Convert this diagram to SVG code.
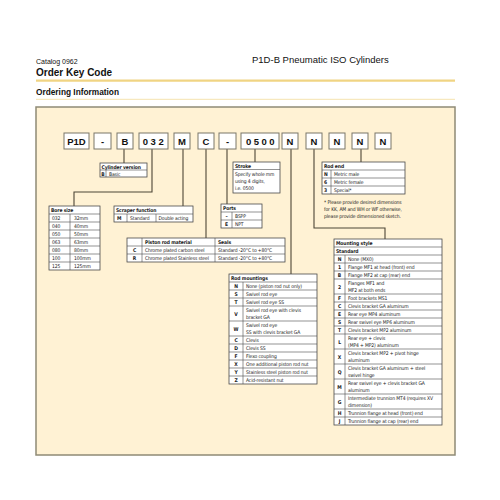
<svg xmlns="http://www.w3.org/2000/svg" width="500" height="500" viewBox="0 0 500 500">
<style>
.hd{font-family:"Liberation Sans",Arial,sans-serif;fill:#111}
.code{fill:#fff;stroke:#7a7668;stroke-width:1}
.ct{font-family:"Liberation Sans",Arial,sans-serif;font-weight:bold;font-size:9.5px;fill:#111;text-anchor:middle}
.tb{fill:#fff;stroke:#4a4a4a;stroke-width:0.8}
.rl{stroke:#4a4a4a;stroke-width:0.6;fill:none}
.t{font-family:"Liberation Sans Narrow","DejaVu Sans Condensed","Liberation Sans",sans-serif;font-size:5px;letter-spacing:-0.12px;fill:#222}
.b{font-weight:bold}
.m{text-anchor:middle}
.cn{stroke:#4d4636;stroke-width:1.1;fill:none}
</style>
<rect width="500" height="500" fill="#fff"/>
<g id="header">
<text class="hd" x="36" y="64" font-size="7">Catalog 0962</text>
<text class="hd" x="36" y="76" font-size="10" font-weight="bold">Order Key Code</text>
<text class="hd" x="252" y="63" font-size="9.5">P1D-B Pneumatic ISO Cylinders</text>
<line x1="36" y1="80.7" x2="455" y2="80.7" stroke="#f0d483" stroke-width="2.2"/>
<text class="hd" x="36" y="95" font-size="8.3" font-weight="bold">Ordering Information</text>
<line x1="36" y1="99.3" x2="455" y2="99.3" stroke="#f6e3ae" stroke-width="1"/>
</g>
<rect id="panel" x="36" y="107" width="419" height="348" fill="#fff2d4" stroke="#8f8a76" stroke-width="1.5"/>
<g id="connectors">
<path class="cn" d="M124,149V163"/>
<path class="cn" d="M152,149V192H74V206"/>
<path class="cn" d="M183,149V206"/>
<path class="cn" d="M206,149V238"/>
<path class="cn" d="M227,149V204"/>
<path class="cn" d="M255,149V162"/>
<path class="cn" d="M291,149V274"/>
<path class="cn" d="M314,149V228H385V239"/>
<path class="cn" d="M361,149V162"/>
</g>
<g id="codes">
<rect class="code" x="64" y="133" width="25" height="16"/><text class="ct" x="76.5" y="144.5">P1D</text>
<rect class="code" x="94" y="133" width="17" height="16"/><text class="ct" x="102.5" y="144.5">-</text>
<rect class="code" x="117" y="133" width="16" height="16"/><text class="ct" x="125" y="144.5">B</text>
<rect class="code" x="139" y="133" width="29" height="16"/><text class="ct" x="154.5" y="144.5" letter-spacing="2.5">032</text>
<rect class="code" x="174" y="133" width="16" height="16"/><text class="ct" x="182" y="144.5">M</text>
<rect class="code" x="198" y="133" width="16" height="16"/><text class="ct" x="206" y="144.5">C</text>
<rect class="code" x="219" y="133" width="17" height="16"/><text class="ct" x="227.5" y="144.5">-</text>
<rect class="code" x="241" y="133" width="38" height="16"/><text class="ct" x="261.5" y="144.5" letter-spacing="2.5">0500</text>
<rect class="code" x="282" y="133" width="16" height="16"/><text class="ct" x="290" y="144.5">N</text>
<rect class="code" x="306" y="133" width="16" height="16"/><text class="ct" x="314" y="144.5">N</text>
<rect class="code" x="329" y="133" width="16" height="16"/><text class="ct" x="337" y="144.5">N</text>
<rect class="code" x="352" y="133" width="16" height="16"/><text class="ct" x="360" y="144.5">N</text>
<rect class="code" x="375" y="133" width="16" height="16"/><text class="ct" x="383" y="144.5">N</text>
</g>
<g id="cylinder-version">
<rect class="tb" x="100" y="163" width="47" height="14"/>
<path class="rl" d="M100,170H147M106,170V177"/>
<text class="t b" x="101.5" y="168.8">Cylinder version</text>
<text class="t b m" x="103" y="175.8">B</text>
<text class="t" x="109" y="175.8">Basic</text>
</g>
<g id="stroke">
<rect class="tb" x="233" y="162" width="47" height="31"/>
<path class="rl" d="M233,169.5H280"/>
<text class="t b" x="235" y="168">Stroke</text>
<text class="t" x="235" y="176">Specify whole mm</text>
<text class="t" x="235" y="183">using 4 digits,</text>
<text class="t" x="235" y="190">i.e. 0500</text>
</g>
<g id="rod-end">
<rect class="tb" x="322" y="162" width="83" height="32"/>
<path class="rl" d="M322,170H405M322,178H405M322,186H405M331,170V194"/>
<text class="t b" x="324" y="168">Rod end</text>
<text class="t b" x="324" y="176">N</text><text class="t" x="334" y="176">Metric male</text>
<text class="t b" x="324" y="184">6</text><text class="t" x="334" y="184">Metric female</text>
<text class="t b" x="324" y="192">3</text><text class="t" x="334" y="192">Special*</text>
<text class="t" x="324" y="204" font-size="4.8">* Please provide desired dimensions</text>
<text class="t" x="324" y="211" font-size="4.8">for KK, AM and WH or WF otherwise,</text>
<text class="t" x="324" y="218" font-size="4.8">please provide dimensioned sketch.</text>
</g>
<g id="ports">
<rect class="tb" x="221" y="204" width="41" height="24"/>
<path class="rl" d="M221,212H262M221,220H262M232,212V228"/>
<text class="t b" x="223" y="210">Ports</text>
<text class="t b m" x="226.5" y="218">–</text><text class="t" x="235" y="218">BSPP</text>
<text class="t b m" x="226.5" y="226">E</text><text class="t" x="235" y="226">NPT</text>
</g>
<g id="bore-size">
<rect class="tb" x="49" y="206" width="51" height="64"/>
<path class="rl" d="M49,214H100M49,222H100M49,230H100M49,238H100M49,246H100M49,254H100M49,262H100M70,214V270"/>
<text class="t b" x="51" y="212">Bore size</text>
<text class="t" x="52" y="220">032</text><text class="t" x="74" y="220">32mm</text>
<text class="t" x="52" y="228">040</text><text class="t" x="74" y="228">40mm</text>
<text class="t" x="52" y="236">050</text><text class="t" x="74" y="236">50mm</text>
<text class="t" x="52" y="244">063</text><text class="t" x="74" y="244">63mm</text>
<text class="t" x="52" y="252">080</text><text class="t" x="74" y="252">80mm</text>
<text class="t" x="52" y="260">100</text><text class="t" x="74" y="260">100mm</text>
<text class="t" x="52" y="268">125</text><text class="t" x="74" y="268">125mm</text>
</g>
<g id="scraper-function">
<rect class="tb" x="114" y="206" width="79" height="16"/>
<path class="rl" d="M114,214H193M127,214V222M156,214V222"/>
<text class="t b" x="116" y="212">Scraper function</text>
<text class="t b" x="117" y="220">M</text>
<text class="t" x="130" y="220">Standard</text>
<text class="t" x="158.5" y="220">Double acting</text>
</g>
<g id="piston-rod">
<rect class="tb" x="127" y="238" width="158" height="24"/>
<path class="rl" d="M127,246H285M127,254H285M142,238V262M215,238V262"/>
<text class="t b" x="145" y="244">Piston rod material</text>
<text class="t b" x="218" y="244">Seals</text>
<text class="t b m" x="134.5" y="252">C</text>
<text class="t" x="145" y="252">Chrome plated carbon steel</text>
<text class="t" x="218" y="252">Standard -20°C to +80°C</text>
<text class="t b m" x="134.5" y="260">R</text>
<text class="t" x="145" y="260">Chrome plated Stainless steel</text>
<text class="t" x="218" y="260">Standard -20°C to +80°C</text>
</g>
<g id="rod-mountings">
<rect class="tb" x="229" y="274" width="88" height="110"/>
<path class="rl" d="M229,282H317M229,290H317M229,298H317M229,306H317M229,321H317M229,336H317M229,344H317M229,352H317M229,360H317M229,368H317M229,376H317M243,282V384"/>
<text class="t b" x="231" y="280">Rod mountings</text>
<g class="t b m">
<text x="236" y="288">N</text><text x="236" y="296">S</text><text x="236" y="304">T</text>
<text x="236" y="315.5">V</text><text x="236" y="330.5">W</text><text x="236" y="342">C</text>
<text x="236" y="350">D</text><text x="236" y="358">F</text><text x="236" y="366">X</text>
<text x="236" y="374">Y</text><text x="236" y="382">Z</text>
</g>
<g class="t">
<text x="246" y="288">None (piston rod nut only)</text>
<text x="246" y="296">Swivel rod eye</text>
<text x="246" y="304">Swivel rod eye SS</text>
<text x="246" y="312">Swivel rod eye with clevis</text>
<text x="246" y="319">bracket GA</text>
<text x="246" y="327">Swivel rod eye</text>
<text x="246" y="334">SS with clevis bracket GA</text>
<text x="246" y="342">Clevis</text>
<text x="246" y="350">Clevis SS</text>
<text x="246" y="358">Flexo coupling</text>
<text x="246" y="366">One additional piston rod nut</text>
<text x="246" y="374">Stainless steel piston rod nut</text>
<text x="246" y="382">Acid-resistant nut</text>
</g>
</g>
<g id="mounting-style">
<rect class="tb" x="334" y="239" width="108" height="186"/>
<path class="rl" d="M334,247H442M334,255H442M334,263H442M334,271H442M334,279H442M334,294H442M334,302H442M334,310H442M334,318H442M334,326H442M334,334H442M334,349H442M334,364H442M334,379H442M334,394H442M334,409H442M334,417H442M345,255V425"/>
<text class="t b" x="336" y="245">Mounting style</text>
<text class="t b" x="336" y="253">Standard</text>
<g class="t b m">
<text x="339.5" y="261">N</text><text x="339.5" y="269">1</text><text x="339.5" y="277">B</text>
<text x="339.5" y="288.5">2</text><text x="339.5" y="300">F</text><text x="339.5" y="308">C</text>
<text x="339.5" y="316">E</text><text x="339.5" y="324">S</text><text x="339.5" y="332">T</text>
<text x="339.5" y="343.5">L</text><text x="339.5" y="358.5">X</text><text x="339.5" y="373.5">Q</text>
<text x="339.5" y="388.5">M</text><text x="339.5" y="403.5">G</text><text x="339.5" y="415">H</text>
<text x="339.5" y="423">J</text>
</g>
<g class="t">
<text x="348" y="261">None (MX0)</text>
<text x="348" y="269">Flange MF1 at head (front) end</text>
<text x="348" y="277">Flange MF2 at cap (rear) end</text>
<text x="348" y="285">Flanges MF1 and</text>
<text x="348" y="292">MF2 at both ends</text>
<text x="348" y="300">Foot brackets MS1</text>
<text x="348" y="308">Clevis bracket GA aluminum</text>
<text x="348" y="316">Rear eye MP4 aluminum</text>
<text x="348" y="324">Rear swivel eye MP6 aluminum</text>
<text x="348" y="332">Clevis bracket MP2 aluminum</text>
<text x="348" y="340">Rear eye + clevis</text>
<text x="348" y="347">(MP4 + MP2) aluminum</text>
<text x="348" y="355">Clevis bracket MP2 + pivot hinge</text>
<text x="348" y="362">aluminum</text>
<text x="348" y="370">Clevis bracket GA aluminum + steel</text>
<text x="348" y="377">swivel hinge</text>
<text x="348" y="385">Rear swivel eye + clevis bracket GA</text>
<text x="348" y="392">aluminum</text>
<text x="348" y="400">Intermediate trunnion MT4 (requires XV</text>
<text x="348" y="407">dimension)</text>
<text x="348" y="415">Trunnion flange at head (front) end</text>
<text x="348" y="423">Trunnion flange at cap (rear) end</text>
</g>
</g>
</svg>
